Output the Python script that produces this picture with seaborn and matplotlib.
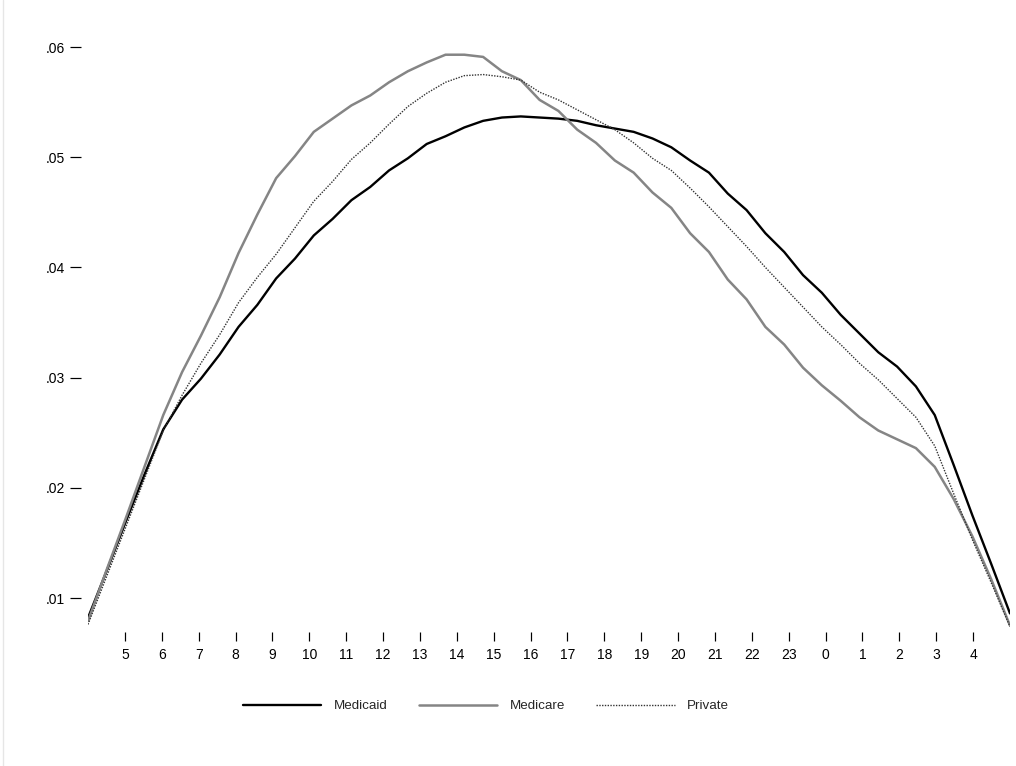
import numpy as np
import pandas as pd
import matplotlib
matplotlib.use("Agg")
import matplotlib.pyplot as plt
import seaborn as sns
from matplotlib.lines import Line2D

# ---- data (share of visits by half-hour, 4:00 through 5:00 next day) ----
medicaid = [0.0082, 0.0125, 0.0169, 0.0212, 0.0253, 0.0280, 0.0299, 0.0321, 0.0346, 0.0366,
            0.0390, 0.0408, 0.0429, 0.0444, 0.0461, 0.0473, 0.0488, 0.0499, 0.0512, 0.0519,
            0.0527, 0.0533, 0.0536, 0.0537, 0.0536, 0.0535, 0.0533, 0.0529, 0.0526, 0.0523,
            0.0517, 0.0509, 0.0497, 0.0486, 0.0467, 0.0452, 0.0431, 0.0414, 0.0393, 0.0377,
            0.0357, 0.0340, 0.0323, 0.0310, 0.0292, 0.0266, 0.0221, 0.0175, 0.0131, 0.0086]
medicare = [0.0079, 0.0126, 0.0172, 0.0219, 0.0266, 0.0305, 0.0338, 0.0373, 0.0413, 0.0448,
            0.0481, 0.0501, 0.0523, 0.0535, 0.0547, 0.0556, 0.0568, 0.0578, 0.0586, 0.0593,
            0.0593, 0.0591, 0.0578, 0.0570, 0.0552, 0.0542, 0.0525, 0.0513, 0.0497, 0.0486,
            0.0468, 0.0454, 0.0431, 0.0414, 0.0389, 0.0371, 0.0346, 0.0330, 0.0309, 0.0293,
            0.0279, 0.0264, 0.0252, 0.0244, 0.0236, 0.0219, 0.0190, 0.0156, 0.0117, 0.0075]
private = [0.0076, 0.0120, 0.0164, 0.0208, 0.0252, 0.0284, 0.0313, 0.0339, 0.0368, 0.0391,
           0.0412, 0.0436, 0.0460, 0.0478, 0.0498, 0.0513, 0.0530, 0.0546, 0.0558, 0.0568,
           0.0574, 0.0575, 0.0573, 0.0570, 0.0559, 0.0552, 0.0543, 0.0534, 0.0525, 0.0513,
           0.0499, 0.0488, 0.0472, 0.0455, 0.0437, 0.0419, 0.0400, 0.0382, 0.0364, 0.0346,
           0.0330, 0.0313, 0.0298, 0.0281, 0.0264, 0.0238, 0.0195, 0.0153, 0.0114, 0.0074]
hours = np.linspace(4, 29, len(medicaid))   # clock hours (continuing past midnight)

xtick_pos = list(range(5, 29))
xtick_labels = [str(h % 24) for h in xtick_pos]
ytick_vals = [0.01, 0.02, 0.03, 0.04, 0.05, 0.06]
ytick_labels = [".01", ".02", ".03", ".04", ".05", ".06"]
series_names = ["Medicaid", "Medicare", "Private"]

df = pd.DataFrame({
    "hour": np.concatenate([hours] * 3),
    "share": np.concatenate([medicaid, medicare, private]),
    "payer": np.repeat(series_names, len(hours)),
})

sns.set_style("white")
plt.rcParams["font.family"] = ["Liberation Sans", "DejaVu Sans"]

W, H = 1016, 766
PT = 0.72  # points per pixel at dpi 100
fig = plt.figure(figsize=(W / 100, H / 100), dpi=100)
left, right, top, bottom = 88, 1010, 40, 628
ax = fig.add_axes([left / W, 1 - bottom / H, (right - left) / W, (bottom - top) / H])

styles = {
    "Medicaid": dict(color="black", lw=1.7, ls="-"),
    "Medicare": dict(color="#858585", lw=1.8, ls="-"),
    "Private": dict(color="#333333", lw=1.0, ls=(0, (1, 1))),
}
for name in series_names:
    sub = df[df["payer"] == name]
    sns.lineplot(data=sub, x="hour", y="share", ax=ax, label=name,
                 color=styles[name]["color"], linewidth=styles[name]["lw"],
                 linestyle=styles[name]["ls"], legend=False)

# y range from pixel mapping (.01 at px 598, .06 at px 47)
def v(px):
    return 0.01 + (598 - px) / 11020.0

ax.set_xlim(4, 29)
ax.set_ylim(v(bottom), v(top))
ax.set_xticks(xtick_pos)
ax.set_xticklabels(xtick_labels)
ax.set_yticks(ytick_vals)
ax.set_yticklabels(ytick_labels)
ax.set_xlabel("")
ax.set_ylabel("")

for s in ax.spines.values():
    s.set_visible(False)
ax.spines["left"].set_position(("outward", 7 * PT))
ax.spines["bottom"].set_position(("outward", 4 * PT))
ax.tick_params(axis="y", direction="out", length=11 * PT, width=1.2 * PT, pad=5 * PT,
               labelsize=10, colors="black", left=True)
ax.tick_params(axis="x", direction="out", length=9 * PT, width=1.2 * PT, pad=7 * PT,
               labelsize=10, colors="black", bottom=True)
ax.grid(False)

handles = [Line2D([], [], color=styles[n]["color"], lw=styles[n]["lw"],
                  ls=styles[n]["ls"]) for n in series_names]
fig.legend(handles, series_names, loc="center", ncol=3, frameon=False,
           bbox_to_anchor=(486 / W, 1 - 706 / H), fontsize=9.6,
           handlelength=5.9, handletextpad=0.95, columnspacing=2.3)

fig.add_artist(Line2D([3 / W, 3 / W], [0, 1], color="#e6e6e6", lw=1,
                      transform=fig.transFigure))

fig.savefig("out.png", dpi=100, facecolor="white")
